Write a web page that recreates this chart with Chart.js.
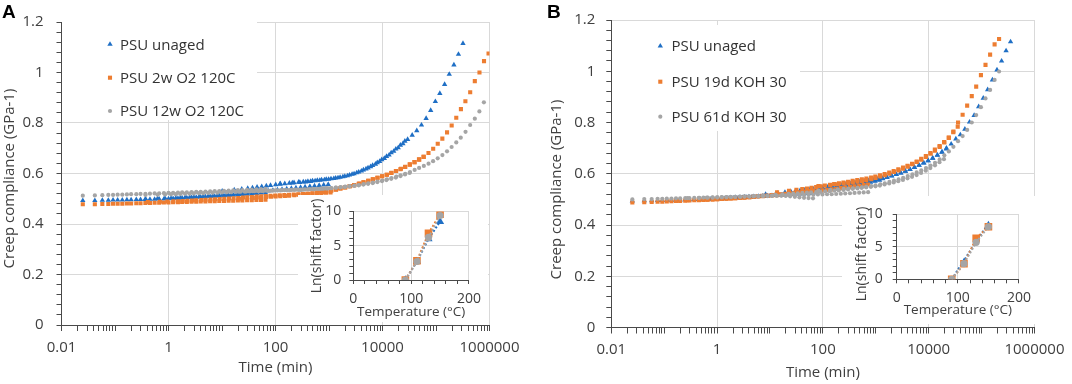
<!DOCTYPE html>
<html>
<head>
<meta charset="utf-8">
<script src="https://cdn.jsdelivr.net/npm/chart.js@4.4.1/dist/chart.umd.min.js"></script>
<style>
  html, body { margin: 0; padding: 0; background: #fff; }
  #wrap { position: relative; width: 1072px; height: 384px; overflow: hidden; }
  canvas { position: absolute; }
  .panel { position: absolute; font: bold 19px "Liberation Sans", Arial, sans-serif; line-height: 18px; color: #000; }
</style>
</head>
<body>
<div id="wrap">
  <canvas id="mainA" width="536" height="384" style="left:0;top:0"></canvas>
  <canvas id="mainB" width="536" height="384" style="left:536px;top:0"></canvas>
  <canvas id="insetA" width="190" height="127" style="left:298px;top:195px;background:#fff"></canvas>
  <canvas id="insetB" width="195" height="128" style="left:842px;top:196px;background:#fff"></canvas>
  <div class="panel" style="left:2px;top:3px">A</div>
  <div class="panel" style="left:547px;top:3px">B</div>
</div>
<script>
// time points of one creep segment (min), same for every temperature
const segTimes = [0.025, 0.042, 0.058, 0.075, 0.092, 0.112, 0.137, 0.167, 0.2, 0.25,
  0.3, 0.37, 0.45, 0.55, 0.67, 0.82, 1.0, 1.22, 1.5, 1.8,
  2.2, 2.7, 3.3, 4, 4.9, 6, 7.3, 8.9, 10.9, 13.3,
  16.2, 19.8, 24, 29.5, 36, 44, 53.5, 65];

// temperatures of the segments and ln(shift factor) for each sample (inset)
const tempsC = [90, 110, 130, 150];
const lnShiftUnagedA = [0, 2.7, 6.0, 8.5];
const lnShift2wA = [0, 2.8, 6.8, 9.6];
const lnShift12wA = [0, 2.7, 6.2, 9.4];
const lnShiftUnagedB = [0, 2.9, 5.8, 8.6];
const lnShift19dB = [0, 2.4, 6.3, 8.1];
const lnShift61dB = [0, 2.4, 5.7, 8.1];

// creep compliance (GPa-1), one row per temperature segment
const unagedA = [
  [0.493,0.493,0.494,0.494,0.495,0.495,0.495,0.496,0.496,0.497,0.497,0.497,0.498,0.498,0.499,0.499,0.500,0.501,0.502,0.503,0.504,0.505,0.506,0.507,0.508,0.509,0.510,0.511,0.512,0.513,0.514,0.516,0.517,0.518,0.520,0.521,0.523,0.524],
  [0.500,0.501,0.502,0.502,0.503,0.504,0.505,0.506,0.507,0.508,0.509,0.510,0.511,0.512,0.514,0.515,0.517,0.518,0.520,0.521,0.523,0.525,0.527,0.529,0.531,0.533,0.535,0.537,0.539,0.541,0.543,0.545,0.547,0.549,0.551,0.553,0.555,0.557],
  [0.530,0.535,0.538,0.541,0.543,0.546,0.548,0.551,0.553,0.556,0.558,0.560,0.562,0.564,0.566,0.567,0.569,0.571,0.573,0.575,0.577,0.579,0.582,0.585,0.589,0.594,0.599,0.606,0.614,0.622,0.632,0.643,0.655,0.668,0.682,0.697,0.712,0.728],
  [0.560,0.563,0.565,0.567,0.569,0.571,0.573,0.575,0.577,0.580,0.583,0.587,0.591,0.597,0.603,0.610,0.618,0.627,0.637,0.648,0.660,0.673,0.688,0.702,0.718,0.735,0.752,0.770,0.792,0.818,0.850,0.885,0.917,0.953,0.993,1.030,1.072,1.115]
];
const aged2wA = [
  [0.478,0.478,0.479,0.479,0.480,0.480,0.480,0.481,0.481,0.482,0.482,0.483,0.483,0.484,0.484,0.485,0.485,0.486,0.486,0.487,0.487,0.488,0.488,0.489,0.489,0.490,0.490,0.491,0.491,0.492,0.492,0.493,0.493,0.494,0.494,0.495,0.495,0.496],
  [0.487,0.488,0.489,0.490,0.490,0.491,0.492,0.493,0.494,0.495,0.496,0.497,0.498,0.499,0.500,0.501,0.502,0.503,0.505,0.506,0.507,0.509,0.510,0.511,0.512,0.513,0.514,0.515,0.516,0.517,0.518,0.519,0.520,0.521,0.522,0.523,0.524,0.525],
  [0.500,0.503,0.505,0.507,0.508,0.509,0.510,0.511,0.512,0.514,0.516,0.518,0.520,0.522,0.525,0.527,0.530,0.533,0.537,0.541,0.545,0.550,0.554,0.559,0.565,0.571,0.577,0.583,0.589,0.595,0.602,0.610,0.617,0.626,0.636,0.645,0.656,0.666],
  [0.516,0.524,0.528,0.533,0.536,0.541,0.545,0.550,0.554,0.560,0.565,0.571,0.577,0.583,0.589,0.595,0.603,0.610,0.619,0.627,0.635,0.645,0.655,0.666,0.681,0.698,0.718,0.738,0.763,0.790,0.821,0.855,0.886,0.922,0.966,1.000,1.045,1.075]
];
const aged12wA = [
  [0.512,0.513,0.514,0.515,0.515,0.516,0.516,0.517,0.518,0.518,0.519,0.519,0.520,0.521,0.521,0.522,0.523,0.523,0.524,0.525,0.525,0.526,0.527,0.527,0.528,0.529,0.530,0.530,0.531,0.532,0.533,0.534,0.534,0.535,0.536,0.537,0.538,0.539],
  [0.515,0.516,0.517,0.518,0.518,0.519,0.520,0.520,0.521,0.522,0.522,0.523,0.524,0.524,0.525,0.526,0.526,0.527,0.528,0.528,0.529,0.530,0.530,0.531,0.532,0.532,0.533,0.534,0.534,0.535,0.536,0.536,0.537,0.538,0.538,0.539,0.540,0.541],
  [0.526,0.528,0.529,0.530,0.531,0.531,0.532,0.532,0.533,0.533,0.534,0.534,0.535,0.535,0.536,0.537,0.538,0.539,0.540,0.541,0.542,0.544,0.545,0.547,0.549,0.551,0.553,0.556,0.559,0.562,0.566,0.570,0.574,0.579,0.584,0.590,0.596,0.602],
  [0.535,0.538,0.540,0.541,0.542,0.544,0.546,0.548,0.550,0.552,0.554,0.558,0.561,0.564,0.568,0.572,0.577,0.582,0.588,0.593,0.599,0.606,0.614,0.622,0.630,0.639,0.649,0.660,0.673,0.688,0.705,0.723,0.742,0.765,0.792,0.817,0.846,0.882]
];
const unagedB = [
  [0.494,0.495,0.495,0.496,0.496,0.497,0.497,0.498,0.498,0.499,0.499,0.500,0.500,0.501,0.502,0.502,0.503,0.504,0.505,0.506,0.507,0.508,0.509,0.510,0.511,0.512,0.513,0.514,0.515,0.516,0.517,0.518,0.519,0.520,0.521,0.522,0.523,0.524],
  [0.500,0.501,0.502,0.503,0.504,0.505,0.506,0.507,0.508,0.509,0.510,0.511,0.512,0.514,0.515,0.517,0.518,0.520,0.522,0.523,0.525,0.527,0.529,0.531,0.533,0.536,0.538,0.541,0.544,0.547,0.550,0.553,0.556,0.559,0.563,0.567,0.571,0.575],
  [0.520,0.524,0.527,0.530,0.532,0.534,0.536,0.538,0.540,0.543,0.545,0.548,0.550,0.553,0.556,0.559,0.562,0.565,0.568,0.570,0.573,0.576,0.579,0.582,0.587,0.592,0.597,0.603,0.610,0.617,0.625,0.633,0.642,0.651,0.661,0.672,0.684,0.697],
  [0.548,0.553,0.557,0.561,0.564,0.567,0.570,0.573,0.577,0.581,0.586,0.591,0.597,0.603,0.610,0.617,0.625,0.633,0.642,0.651,0.661,0.673,0.685,0.700,0.716,0.736,0.752,0.774,0.802,0.828,0.862,0.895,0.928,0.966,1.005,1.040,1.080,1.115]
];
const koh19dB = [
  [0.488,0.489,0.490,0.491,0.491,0.492,0.493,0.494,0.494,0.495,0.496,0.497,0.497,0.498,0.499,0.500,0.501,0.502,0.503,0.504,0.505,0.507,0.508,0.509,0.511,0.512,0.514,0.515,0.517,0.519,0.520,0.522,0.524,0.526,0.528,0.530,0.532,0.534],
  [0.497,0.498,0.499,0.500,0.501,0.502,0.503,0.504,0.505,0.506,0.507,0.508,0.509,0.511,0.512,0.513,0.515,0.516,0.518,0.520,0.521,0.523,0.525,0.527,0.529,0.531,0.533,0.535,0.537,0.539,0.541,0.544,0.546,0.548,0.551,0.553,0.556,0.558],
  [0.528,0.533,0.537,0.540,0.542,0.545,0.548,0.551,0.554,0.557,0.560,0.563,0.566,0.569,0.572,0.575,0.578,0.581,0.585,0.589,0.594,0.599,0.605,0.611,0.617,0.624,0.631,0.639,0.648,0.658,0.669,0.681,0.694,0.708,0.724,0.741,0.762,0.784],
  [0.552,0.556,0.559,0.562,0.564,0.566,0.569,0.572,0.575,0.579,0.584,0.589,0.594,0.600,0.607,0.613,0.620,0.628,0.637,0.646,0.655,0.666,0.678,0.690,0.705,0.722,0.740,0.765,0.800,0.830,0.866,0.903,0.940,0.985,1.025,1.065,1.105,1.126]
];
const koh61dB = [
  [0.500,0.501,0.501,0.502,0.502,0.503,0.503,0.504,0.504,0.505,0.505,0.506,0.506,0.507,0.507,0.508,0.508,0.509,0.509,0.510,0.510,0.511,0.512,0.512,0.513,0.513,0.514,0.514,0.515,0.515,0.515,0.514,0.512,0.510,0.508,0.506,0.505,0.504],
  [0.505,0.506,0.507,0.507,0.508,0.508,0.509,0.509,0.510,0.510,0.511,0.511,0.512,0.512,0.513,0.513,0.514,0.514,0.515,0.515,0.516,0.516,0.517,0.517,0.518,0.518,0.519,0.519,0.520,0.520,0.521,0.522,0.523,0.524,0.525,0.526,0.527,0.528],
  [0.515,0.518,0.520,0.522,0.523,0.524,0.525,0.526,0.527,0.528,0.529,0.531,0.532,0.534,0.535,0.537,0.539,0.541,0.543,0.545,0.547,0.549,0.551,0.554,0.558,0.562,0.566,0.571,0.576,0.582,0.588,0.595,0.603,0.612,0.622,0.633,0.645,0.657],
  [0.534,0.537,0.539,0.541,0.542,0.543,0.545,0.547,0.549,0.552,0.555,0.559,0.563,0.568,0.573,0.578,0.584,0.591,0.598,0.605,0.613,0.622,0.632,0.643,0.656,0.672,0.687,0.705,0.727,0.747,0.771,0.800,0.829,0.860,0.894,0.927,0.966,0.999]
];

// axis tick labels
const timeLabels = [0.01, 1, 100, 10000, 1000000];
const complianceLabels = [0, 0.2, 0.4, 0.6, 0.8, 1, 1.2];
const tempLabels = [0, 100, 200];
const shiftLabels = [0, 5, 10];

const BLUE = '#1f6fc5', ORANGE = '#ed7d31', GRAY = '#a5a5a5';
const AXIS = '#4a4a4a', GRID = '#d9d9d9', TEXT = '#404040', NONE = 'rgba(0,0,0,0)';
const FONT = '"Open Sans", sans-serif';

Chart.defaults.font.family = FONT;
Chart.defaults.color = TEXT;

const isIn = (list, v) => list.some(t => Math.abs(v - t) < 1e-6 * Math.max(1, Math.abs(t)));

// minor log ticks 1..9 per decade
const timeTicks = [];
for (let e = -2; e < 6; e++) for (let m = 1; m < 10; m++) timeTicks.push(m * Math.pow(10, e));
timeTicks.push(1e6);
const complianceTicks = [];
for (let i = 0; i <= 30; i++) complianceTicks.push(+(i * 0.04).toFixed(2));
const tempTicks = [];
for (let i = 0; i <= 10; i++) tempTicks.push(i * 20);
const shiftTicks = [];
for (let i = 0; i <= 10; i++) shiftTicks.push(i);

function masterCurve(values, lnShifts) {
  const pts = [];
  values.forEach((seg, s) => {
    const f = Math.exp(lnShifts[s]);
    seg.forEach((j, i) => pts.push({ x: segTimes[i] * f, y: j }));
  });
  return pts;
}

function drawMarker(ctx, style, r, color, x, y) {
  ctx.fillStyle = color;
  ctx.beginPath();
  if (style === 'triangle') {
    ctx.moveTo(x, y - r);
    ctx.lineTo(x + 0.866 * r, y + 0.5 * r);
    ctx.lineTo(x - 0.866 * r, y + 0.5 * r);
    ctx.closePath();
  } else if (style === 'rect') {
    const s = r * Math.SQRT1_2;
    ctx.rect(x - s, y - s, 2 * s, 2 * s);
  } else {
    ctx.arc(x, y, r, 0, 2 * Math.PI);
  }
  ctx.fill();
}

// legend box inside the plot and a free-placed y title
function decor(cfg) {
  return {
    id: 'decor',
    beforeDatasetsDraw(chart) {
      if (!cfg.legend) return;
      const ctx = chart.ctx, L = cfg.legend;
      ctx.save();
      ctx.fillStyle = '#fff';
      ctx.fillRect(L.box[0], L.box[1], L.box[2], L.box[3]);
      ctx.font = '15px ' + FONT;
      ctx.textBaseline = 'middle';
      chart.data.datasets.forEach((ds, i) => {
        drawMarker(ctx, ds.pointStyle, ds.pointRadius, ds.backgroundColor, L.markX, L.ys[i]);
        ctx.fillStyle = '#333';
        ctx.fillText(ds.label, L.textX, L.ys[i] + 1);
      });
      ctx.restore();
    },
    afterDraw(chart) {
      const t = cfg.yTitle, ctx = chart.ctx;
      ctx.save();
      ctx.translate(t.x, t.y);
      ctx.rotate(-Math.PI / 2);
      ctx.textAlign = 'center';
      ctx.textBaseline = 'middle';
      ctx.font = t.size + 'px ' + FONT;
      ctx.fillStyle = TEXT;
      ctx.fillText(t.text, 0, 0);
      ctx.restore();
    }
  };
}

function mainChart(id, series, lay) {
  return new Chart(document.getElementById(id), {
    type: 'scatter',
    data: {
      datasets: series.map(s => ({
        label: s.label,
        data: masterCurve(s.values, s.shifts),
        pointStyle: s.style,
        pointRadius: s.radius,
        pointBorderWidth: 0,
        backgroundColor: s.color,
        borderColor: s.color,
        order: s.order
      }))
    },
    options: {
      responsive: false,
      animation: false,
      devicePixelRatio: 1,
      layout: { padding: lay.padding },
      plugins: { legend: { display: false }, tooltip: { enabled: false } },
      scales: {
        x: {
          type: 'logarithmic', min: 0.01, max: 1e6,
          afterBuildTicks: sc => { sc.ticks = timeTicks.map(v => ({ value: v })); },
          afterFit: sc => { sc.height = lay.xHeight; },
          ticks: {
            autoSkip: false, maxRotation: 0, padding: lay.xPad, color: TEXT,
            font: { size: 15 },
            callback: v => isIn(timeLabels, v) ? String(v) : ''
          },
          grid: {
            color: c => (c.tick && isIn(timeLabels, c.tick.value)) ? GRID : NONE,
            tickColor: AXIS, tickLength: 6
          },
          border: { color: AXIS },
          title: { display: true, text: 'Time (min)', color: TEXT, font: { size: 15 }, padding: 0 }
        },
        y: {
          min: 0, max: 1.2,
          afterBuildTicks: sc => { sc.ticks = complianceTicks.map(v => ({ value: v })); },
          afterFit: sc => { sc.width = lay.yWidth; },
          ticks: {
            autoSkip: false, padding: lay.yPad, color: TEXT,
            font: { size: 15 },
            callback: v => isIn(complianceLabels, v) ? String(+v.toFixed(1)) : ''
          },
          grid: {
            color: c => (c.tick && isIn(complianceLabels, c.tick.value)) ? GRID : NONE,
            tickColor: AXIS, tickLength: 5
          },
          border: { color: AXIS }
        }
      }
    },
    plugins: [decor({ legend: lay.legend, yTitle: { text: 'Creep compliance (GPa-1)', size: 15, x: lay.titleX, y: lay.titleY } })]
  });
}

function insetChart(id, series, lay) {
  return new Chart(document.getElementById(id), {
    type: 'scatter',
    data: {
      datasets: series.map(s => ({
        label: s.label,
        data: tempsC.map((t, i) => ({ x: t, y: s.shifts[i] })),
        showLine: true,
        borderDash: [2, 2],
        borderWidth: 2,
        borderColor: s.color,
        backgroundColor: s.color,
        pointStyle: s.style,
        pointRadius: s.radius,
        pointBorderWidth: 0,
        order: s.order
      }))
    },
    options: {
      responsive: false,
      animation: false,
      devicePixelRatio: 1,
      layout: { padding: lay.padding },
      plugins: { legend: { display: false }, tooltip: { enabled: false } },
      scales: {
        x: {
          type: 'linear', min: 0, max: 200,
          afterBuildTicks: sc => { sc.ticks = tempTicks.map(v => ({ value: v })); },
          afterFit: sc => { sc.height = lay.xHeight; },
          ticks: {
            autoSkip: false, maxRotation: 0, padding: lay.xPad, color: TEXT,
            font: { size: 14 },
            callback: v => isIn(tempLabels, v) ? String(v) : ''
          },
          grid: {
            color: c => (c.tick && c.tick.value > 0 && isIn(tempLabels, c.tick.value)) ? GRID : NONE,
            tickColor: AXIS, tickLength: 4
          },
          border: { color: AXIS },
          title: { display: true, text: 'Temperature (°C)', color: TEXT, font: { size: 13.5 }, padding: 0 }
        },
        y: {
          min: 0, max: 10,
          afterBuildTicks: sc => { sc.ticks = shiftTicks.map(v => ({ value: v })); },
          afterFit: sc => { sc.width = lay.yWidth; },
          ticks: {
            autoSkip: false, padding: lay.yPad, color: TEXT,
            font: { size: 14 },
            callback: v => isIn(shiftLabels, v) ? String(v) : ''
          },
          grid: {
            color: c => (c.tick && c.tick.value > 0 && isIn(shiftLabels, c.tick.value)) ? GRID : NONE,
            tickColor: AXIS, tickLength: 4
          },
          border: { color: AXIS }
        }
      }
    },
    plugins: [decor({ yTitle: { text: 'Ln(shift factor)', size: 14, x: lay.titleX, y: lay.titleY } })]
  });
}

// panel A
mainChart('mainA', [
  { label: 'PSU unaged', values: unagedA, shifts: lnShiftUnagedA, color: BLUE, style: 'triangle', radius: 3.1, order: 3 },
  { label: 'PSU 2w O2 120C', values: aged2wA, shifts: lnShift2wA, color: ORANGE, style: 'rect', radius: 2.9, order: 2 },
  { label: 'PSU 12w O2 120C', values: aged12wA, shifts: lnShift12wA, color: GRAY, style: 'circle', radius: 2.1, order: 1 }
], {
  padding: { left: 0, top: 8.2, right: 46.5, bottom: 7 },
  xHeight: 52, yWidth: 61.5, xPad: 8, yPad: 13,
  titleX: 9.5, titleY: 178.5,
  legend: { box: [62, 22, 195, 98], markX: 110, textX: 120, ys: [44.3, 77.7, 111] }
});

// panel B
mainChart('mainB', [
  { label: 'PSU unaged', values: unagedB, shifts: lnShiftUnagedB, color: BLUE, style: 'triangle', radius: 3.1, order: 3 },
  { label: 'PSU 19d KOH 30', values: koh19dB, shifts: lnShift19dB, color: ORANGE, style: 'rect', radius: 2.9, order: 2 },
  { label: 'PSU 61d KOH 30', values: koh61dB, shifts: lnShift61dB, color: GRAY, style: 'circle', radius: 2.1, order: 1 }
], {
  padding: { left: 0, top: 7.7, right: 32.7, bottom: 2 },
  xHeight: 54.5, yWidth: 75.3, xPad: 7.5, yPad: 11,
  titleX: 20.7, titleY: 189.5,
  legend: { box: [76, 25, 188, 106], markX: 124.3, textX: 135.4, ys: [46, 81.7, 116.7] }
});

// insets: ln(shift factor) vs temperature
insetChart('insetA', [
  { label: 'PSU unaged', shifts: lnShiftUnagedA, color: BLUE, style: 'triangle', radius: 4.7, order: 3 },
  { label: 'PSU 2w O2 120C', shifts: lnShift2wA, color: ORANGE, style: 'rect', radius: 5.4, order: 2 },
  { label: 'PSU 12w O2 120C', shifts: lnShift12wA, color: GRAY, style: 'circle', radius: 3.6, order: 1 }
], {
  padding: { left: 0, top: 6, right: 18, bottom: 2.2 },
  xHeight: 39.8, yWidth: 55.3, xPad: 7, yPad: 8,
  titleX: 18.7, titleY: 51
});

insetChart('insetB', [
  { label: 'PSU unaged', shifts: lnShiftUnagedB, color: BLUE, style: 'triangle', radius: 2.8, order: 3 },
  { label: 'PSU 19d KOH 30', shifts: lnShift19dB, color: ORANGE, style: 'rect', radius: 5.4, order: 2 },
  { label: 'PSU 61d KOH 30', shifts: lnShift61dB, color: GRAY, style: 'circle', radius: 3.6, order: 1 }
], {
  padding: { left: 0, top: 6.7, right: 17.7, bottom: 6.2 },
  xHeight: 38.5, yWidth: 54.7, xPad: 6, yPad: 10,
  titleX: 20.3, titleY: 58
});
</script>
</body>
</html>
